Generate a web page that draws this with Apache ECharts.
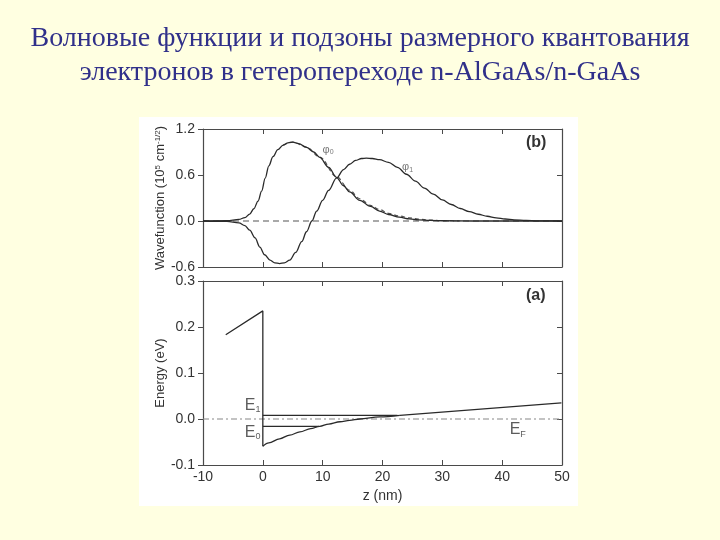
<!DOCTYPE html>
<html><head><meta charset="utf-8">
<script src="https://cdn.jsdelivr.net/npm/echarts@6/dist/echarts.min.js"></script>
<style>html,body{margin:0;padding:0;background:#FFFFE1;}#c{width:720px;height:540px;}</style>
</head><body><div id="c"></div>
<script>
// ---- data ----
const titleLines = ['Волновые функции и подзоны размерного квантования', 'электронов в гетеропереходе n-AlGaAs/n-GaAs'];
const zRange = [-10, 50];
const waveRange = [-0.6, 1.2];
const energyRange = [-0.1, 0.3];

// wavefunction phi0 [z (nm), value]
const phi0 = [[-10,0],[-6,0.005],[-4,0.02],[-3,0.045],[-2.2,0.09],[-1.5,0.16],[-0.8,0.26],[-0.2,0.39],[0.4,0.56],[1,0.72],[1.7,0.84],[2.5,0.93],[3.4,0.99],[4.2,1.02],[5,1.03],[6,1.01],[7.3,0.96],[8.5,0.9],[9.5,0.83],[11,0.7],[12.3,0.57],[13.5,0.46],[14.5,0.38],[16.2,0.27],[18,0.19],[19.5,0.13],[21,0.085],[22.8,0.05],[24.5,0.028],[26,0.015],[28,0.007],[30,0.003],[35,0],[50,0]];
// approximate (dashed) ground-state curve
const phi0Approx = [[3.4,0.99],[5,1.03],[7.3,0.965],[9.5,0.835],[12.3,0.58],[14.5,0.4],[16.2,0.29],[18,0.205],[19.5,0.15],[21,0.1],[22.8,0.065],[24.5,0.04],[26,0.025],[28,0.012],[30,0.005],[33,0]];
// wavefunction phi1
const phi1 = [[-10,0],[-6,-0.005],[-4,-0.025],[-3,-0.06],[-2.2,-0.12],[-1.3,-0.22],[-0.5,-0.34],[0.3,-0.44],[1.2,-0.51],[2,-0.545],[2.8,-0.555],[3.6,-0.545],[4.5,-0.51],[5.5,-0.41],[6.5,-0.27],[7.3,-0.14],[8.2,0],[9,0.13],[10,0.27],[11,0.4],[12.3,0.56],[13.5,0.67],[14.5,0.74],[15.5,0.79],[16.5,0.815],[17.3,0.82],[18.3,0.815],[19.5,0.8],[21,0.765],[22.5,0.7],[24,0.61],[25.5,0.52],[27,0.43],[28.5,0.35],[30,0.275],[31.5,0.215],[33,0.163],[34.5,0.122],[36,0.088],[37.5,0.062],[39,0.041],[40.5,0.026],[42,0.015],[44,0.007],[46,0.002],[50,0]];
const zeroLine = [[-10,0],[50,0]];

// conduction band (eV)
const barrier = [[-6.2,0.183],[0,0.235],[0,-0.059]];
const bandNear = [[0,-0.059],[1,-0.052],[2.8,-0.043],[4.5,-0.035],[6.2,-0.028],[8,-0.021],[9.5,-0.016],[11,-0.011],[12.9,-0.006],[14.5,-0.003],[16.2,0],[19.5,0.0045],[22.9,0.008]];
const bandFar = [[22.9,0.008],[49.9,0.035]];
const E0 = [[0,-0.016],[9.4,-0.016]];
const E1 = [[0,0.008],[22.5,0.008]];
const fermi = [[-10,0],[50,0]];

// annotations
const waveLabels = [{pos:[10.9,0.93], name:'φ', sub:'0'}, {pos:[24.2,0.70], name:'φ', sub:'1'}];
const energyLabels = [{pos:[-1.7,0.030], name:'E', sub:'1'}, {pos:[-1.7,-0.030], name:'E', sub:'0'}, {pos:[42.6,-0.024], name:'E', sub:'F'}];
const panelTags = ['(b)', '(a)'];

// ---- chart ----
const chart = echarts.init(document.getElementById('c'));
const FONT = 'Liberation Sans';
const AXC = '#4a4a4a';
const LC = '#2a2a2a';
const fmt1 = v => Math.abs(v) < 1e-9 ? '0.0' : v.toFixed(1);

function xAx(grid, pos, labels, name) {
  return {
    type:'value', gridIndex:grid, position:pos, min:zRange[0], max:zRange[1], interval:10,
    axisLine:{show:true, onZero:false, lineStyle:{color:AXC, width:1.2}},
    axisTick:{show:true, inside:true, length:5, lineStyle:{color:AXC}},
    axisLabel:{show:labels, color:'#333', fontFamily:FONT, fontSize:14, margin:5},
    splitLine:{show:false},
    name: name || '', nameLocation:'middle', nameGap:24,
    nameTextStyle:{color:'#333', fontFamily:FONT, fontSize:14}
  };
}
function yAx(grid, pos, range, iv, labels, name) {
  return {
    type:'value', gridIndex:grid, position:pos, min:range[0], max:range[1], interval:iv,
    axisLine:{show:true, onZero:false, lineStyle:{color:AXC, width:1.2}},
    axisTick:{show:true, inside:pos==='right', length:5, lineStyle:{color:AXC}},
    axisLabel:{show:labels, color:'#333', fontFamily:FONT, fontSize:14, margin:8, formatter:fmt1},
    splitLine:{show:false},
    name: name || '', nameLocation:'middle', nameGap:35,
    nameTextStyle: name ? {color:'#333', fontFamily:FONT, fontSize:13,
      rich:{n:{fontFamily:FONT, fontSize:13, color:'#333'}, s:{fontFamily:FONT, fontSize:8, color:'#333', verticalAlign:'top', padding:[0,0,6,0]}}} : {}
  };
}
function lineS(data, xi, yi, extra) {
  return Object.assign({type:'line', data:data, xAxisIndex:xi, yAxisIndex:yi, symbol:'none', smooth:false,
    lineStyle:{color:LC, width:1.3}, silent:true, animation:false, z:3}, extra||{});
}
function labelS(items, xi, yi, size, subSize, color) {
  return {type:'scatter', xAxisIndex:xi, yAxisIndex:yi, symbolSize:0, silent:true, animation:false, z:5,
    data: items.map(it => ({value:it.pos, label:{show:true, position:'inside',
      formatter:'{m|' + it.name + '}{s|' + it.sub + '}'}})),
    label:{rich:{m:{fontFamily:FONT, fontSize:size, color:color}, s:{fontFamily:FONT, fontSize:subSize, color:color, padding:[size*0.5,0,0,0]}}}
  };
}
const SM = {smooth:0.35, smoothMonotone:'x'};

const option = {
  backgroundColor:'#FFFFE1',
  animation:false,
  title:{text: titleLines.join('\n'), left:'center', top:17,
    textStyle:{fontFamily:'Liberation Serif', fontSize:28, fontWeight:'normal', color:'#30308A', lineHeight:34}},
  graphic:[
    {type:'rect', shape:{x:139, y:117, width:439, height:389}, style:{fill:'#ffffff'}, z:-10, silent:true},
    {type:'text', left:526, top:135, style:{text:panelTags[0], font:'bold 16px Liberation Sans', fill:'#333'}, z:10},
    {type:'text', left:526, top:288, style:{text:panelTags[1], font:'bold 16px Liberation Sans', fill:'#333'}, z:10}
  ],
  grid:[
    {left:203, top:129, width:359, height:138, containLabel:false},
    {left:203, top:281, width:359, height:184, containLabel:false}
  ],
  xAxis:[xAx(0,'bottom',false), xAx(0,'top',false), xAx(1,'bottom',true,'z (nm)'), xAx(1,'top',false)],
  yAxis:[
    yAx(0,'left',waveRange,0.6,true,'{n|Wavefunction (10}{s|5}{n| cm}{s|-1/2}{n|)}'),
    yAx(0,'right',waveRange,0.6,false),
    yAx(1,'left',energyRange,0.1,true,'{n|Energy (eV)}'),
    yAx(1,'right',energyRange,0.1,false)
  ],
  series:[
    lineS(zeroLine,0,0,{lineStyle:{color:'#555', width:1.2, type:[6,4]}, z:1}),
    lineS(phi0Approx,0,0,Object.assign({lineStyle:{color:'#555', width:1.2, type:[4,3]}, z:2}, SM)),
    lineS(phi0,0,0,SM),
    lineS(phi1,0,0,SM),
    labelS(waveLabels,0,0,11,7,'#555'),
    lineS(fermi,2,2,{lineStyle:{color:'#888', width:1.2, type:[6,3,2,3]}, z:1}),
    lineS(barrier,2,2),
    lineS(bandNear,2,2,SM),
    lineS(bandFar,2,2),
    lineS(E0,2,2,{lineStyle:{color:LC, width:1.2}}),
    lineS(E1,2,2,{lineStyle:{color:LC, width:1.2}}),
    labelS(energyLabels,2,2,16,9,'#333')
  ]
};
chart.setOption(option);
</script>
</body></html>
